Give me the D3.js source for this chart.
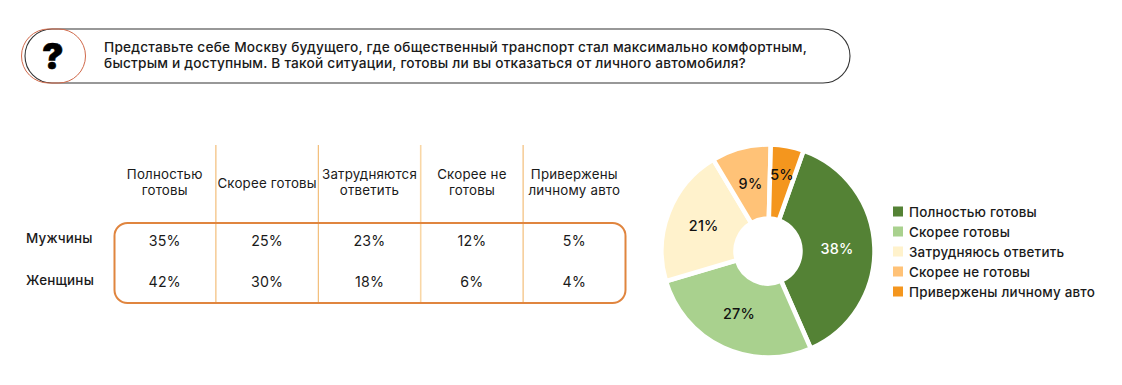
<!DOCTYPE html>
<html><head><meta charset="utf-8">
<script src="https://cdnjs.cloudflare.com/ajax/libs/d3/7.8.5/d3.min.js"></script>
<style>html,body{margin:0;padding:0;background:#fff}svg{display:block}text{font-family:Inter,sans-serif;fill:#1a1a1a;letter-spacing:.2px}</style>
</head><body><svg id="c" width="1122" height="385"></svg>
<script>
const questionLines=["Представьте себе Москву будущего, где общественный транспорт стал максимально комфортным,","быстрым и доступным. В такой ситуации, готовы ли вы отказаться от личного автомобиля?"];
const columnHeaders=[["Полностью","готовы"],["Скорее готовы"],["Затрудняются","ответить"],["Скорее не","готовы"],["Привержены","личному авто"]];
const rowNames=["Мужчины","Женщины"];
const menValues=[35,25,23,12,5];
const womenValues=[42,30,18,6,4];
const pieLabels=["Полностью готовы","Скорее готовы","Затрудняюсь ответить","Скорее не готовы","Привержены личному авто"];
const pieValues=[38,27,21,9,5];
const pieColors=["#548235","#a9d18e","#fff2cc","#ffc277","#f4961e"];
const pieTextColors=["#fff","#111","#111","#111","#111"];

const svg=d3.select("#c");
// question pill
svg.append("rect").attr("x",25).attr("y",29).attr("width",825).attr("height",54).attr("rx",27).attr("fill","none").attr("stroke","#333").attr("stroke-width",1.1);
svg.append("rect").attr("x",21.5).attr("y",29).attr("width",64).attr("height",54).attr("rx",27).attr("fill","none").attr("stroke","#d0694a").attr("stroke-width",1);
svg.append("text").attr("x",53).attr("y",69).attr("text-anchor","middle").attr("font-size",36).attr("font-weight",900).style("fill","#000").style("stroke","#000").style("stroke-width",.6).text("?");
svg.selectAll(".q").data(questionLines).join("text").attr("x",104).attr("y",(d,i)=>52+i*16).attr("font-size",13.7).attr("font-weight",500).text(d=>d);

// table
const x=d3.scaleBand().domain(d3.range(5)).range([113.5,625.5]);
const y=d3.scalePoint().domain(rowNames).range([241.5,282.5]);
svg.selectAll(".v").data(d3.range(1,5)).join("line").attr("x1",d=>x(d)).attr("x2",d=>x(d)).attr("y1",145).attr("y2",303).attr("stroke",d=>d==3?"#f9d7a6":"#f0b15e").attr("stroke-width",d=>d==3?1.6:1);
svg.append("rect").attr("x",114.5).attr("y",223).attr("width",511).attr("height",80).attr("rx",13).attr("fill","none").attr("stroke","#e0853f").attr("stroke-width",2);
columnHeaders.forEach((ls,i)=>{
  const y0=ls.length==1?187.5:179;
  ls.forEach((l,j)=>svg.append("text").attr("x",x(i)+x.bandwidth()/2).attr("y",y0+j*15.5).attr("text-anchor","middle").attr("font-size",13.3).text(l));
});
[menValues,womenValues].forEach((vals,r)=>{
  svg.append("text").attr("x",26).attr("y",r?285:243).attr("font-size",13.4).attr("font-weight",500).text(rowNames[r]);
  vals.forEach((v,i)=>svg.append("text").attr("x",x(i)+x.bandwidth()/2).attr("y",y(rowNames[r])+4.5).attr("text-anchor","middle").attr("font-size",14.2).text(v+"%"));
});

// donut
const start=19.5*Math.PI/180;
const pie=d3.pie().sort(null).startAngle(start).endAngle(start+2*Math.PI)(pieValues);
const arc=d3.arc().innerRadius(32.5).outerRadius(106.5);
const g=svg.append("g").attr("transform","translate(768,251)");
g.selectAll("path").data(pie).join("path").attr("d",arc).attr("fill",(d,i)=>pieColors[i]).attr("stroke","#fff").attr("stroke-width",4.5);
const labelPos=d=>{const r=d.value<9?77:69;return d3.arc().innerRadius(r).outerRadius(r).centroid(d);};
g.selectAll("text").data(pie).join("text").attr("transform",d=>`translate(${labelPos(d)})`).attr("text-anchor","middle").attr("dy",".35em").attr("font-size",14.4).attr("font-weight",500).style("fill",(d,i)=>pieTextColors[i]).text(d=>d.value+"%");

// legend
const ly=d3.scalePoint().domain(pieLabels).range([211.5,291.5]);
svg.selectAll(".ls").data(pieLabels).join("rect").attr("x",893).attr("y",d=>ly(d)-5).attr("width",10).attr("height",10).attr("fill",(d,i)=>pieColors[i]);
svg.selectAll(".lt").data(pieLabels).join("text").attr("x",909).attr("y",d=>ly(d)+5).attr("font-size",13.4).attr("font-weight",500).text(d=>d);
</script></body></html>
